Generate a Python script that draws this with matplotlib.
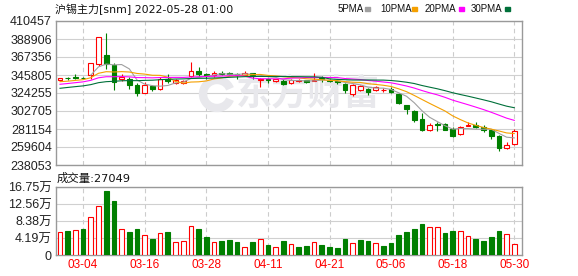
import matplotlib.pyplot as plt
import matplotlib.patches as mpatches
import numpy as np
import pandas as pd

# dados (60 pregoes, 03-01 a 05-30)
opens = [339400, 342600, 343300, 342200, 346100, 359100, 370200, 357600, 340600, 340600,
         333500, 324800, 332700, 329500, 340600, 336600, 336600, 344500, 350900, 346500,
         345300, 347700, 347700, 346500, 346100, 348500, 339800, 341400, 338600, 339000,
         336300, 338200, 339400, 339000, 342600, 339800, 338600, 335100, 323600, 328400,
         329100, 328000, 327600, 328800, 322800, 310200, 302300, 293200, 280200, 287700,
         286900, 281400, 275500, 285000, 286100, 284100, 279400, 272300, 258500, 263200]
highs = [342400, 343400, 346500, 343800, 360300, 391500, 396200, 360300, 346500, 343400,
         335900, 337400, 333500, 343400, 346500, 340600, 340200, 361900, 354800, 348500,
         350100, 350100, 349700, 348500, 350100, 348500, 341800, 342600, 341400, 340600,
         340600, 340600, 340200, 348100, 344500, 341000, 339800, 336300, 335500, 334300,
         330700, 332700, 330300, 331100, 324800, 310200, 304300, 299900, 288500, 290100,
         288100, 283400, 285300, 290100, 289300, 286100, 279400, 273500, 266000, 280600]
lows = [338600, 339800, 340600, 340600, 341400, 356400, 352400, 328400, 338600, 329500,
        320900, 324400, 326800, 328000, 336600, 335500, 335500, 343800, 343800, 340600,
        343800, 345300, 345300, 340600, 344500, 340600, 331900, 336600, 337400, 333500,
        335100, 337400, 335900, 338200, 337800, 337800, 335500, 324400, 320900, 326800,
        322400, 327200, 325600, 324800, 311000, 299200, 289300, 278200, 278200, 278200,
        279400, 271900, 273500, 284500, 282200, 277400, 269600, 254600, 257700, 262400]
closes = [341800, 342200, 342600, 341800, 359900, 391100, 359100, 337800, 343800, 333900,
          324400, 334300, 328800, 340600, 338200, 339800, 339000, 350900, 346500, 344500,
          348100, 347300, 347300, 345300, 348100, 345300, 341400, 339400, 340600, 335100,
          340200, 340200, 337800, 340200, 340600, 338600, 337400, 328000, 333500, 332300,
          325600, 331100, 327800, 325600, 312200, 305100, 292400, 280200, 286100, 286500,
          280200, 272300, 283400, 285400, 283400, 279800, 272700, 258500, 262400, 279000]
volumes = [55600, 58800, 60500, 63700, 94800, 121700, 156900, 132400, 62900, 56400,
           63700, 48200, 39200, 53100, 56400, 31000, 33500, 70300, 63700, 44100,
           31000, 34300, 36800, 31900, 19600, 31900, 38400, 24500, 19600, 34300,
           26100, 19600, 22100, 31000, 24500, 19600, 17200, 39200, 28600, 36800,
           34300, 28600, 22100, 29400, 49000, 56400, 63700, 76000, 67800, 67800,
           53900, 58800, 58000, 45800, 39200, 34300, 44100, 58800, 50700, 27049]
# cor de cada barra de volume (r = alta, g = baixa)
vol_dir = "rgrgrrggrggrgrgrrrggrgggrgrgrg" + "rggrggggrggrggggggrrggrrggggrr"

# fechamentos anteriores estimados, so para as medias de 10/20/30
prev_closes = [312000, 313500, 314500, 315000, 321000, 323000, 324500, 325500, 326500, 327500,
               324000, 322500, 322000, 323700, 330000, 334000, 338000, 340000, 341000, 340800,
               336000, 333500, 333000, 336500, 338000, 340000, 341500, 339500, 338200]

date_pos = [3, 11, 19, 27, 35, 43, 51, 59]
date_labels = ["03-04", "03-16", "03-28", "04-11", "04-21", "05-06", "05-18", "05-30"]
price_ticks = [410457, 388906, 367356, 345805, 324255, 302705, 281154, 259604, 238053]
vol_ticks = [0, 41875, 83750, 125625, 167500]
vol_tick_labels = ["0", "4.19万", "8.38万", "12.56万", "16.75万"]

RED = "#ff0000"
GREEN = "#007f00"
W, H = 578, 276
lab_font = ["Liberation Sans", "Noto Sans CJK SC"]
title_font = ["DejaVu Sans", "Noto Sans CJK SC"]

fig = plt.figure(figsize=(W / 100, H / 100), dpi=100)
ax = fig.add_axes([56 / W, 1 - 165 / H, 466 / W, 144 / H])
axv = fig.add_axes([56 / W, 1 - 255 / H, 466 / W, 68 / H])

x = np.arange(len(closes))
o = np.array(opens)
c = np.array(closes)
up = c >= o
ccol = np.where(up, RED, GREEN)

# velas
ax.vlines(x, lows, highs, colors=ccol, lw=0.8, zorder=3)
body = np.maximum(np.abs(c - o), 400)
ax.bar(x, body, bottom=np.minimum(o, c), width=0.62,
       color=np.where(up, "white", GREEN), edgecolor=ccol, lw=0.8, zorder=4)

# medias moveis
full = pd.Series(prev_closes + closes, dtype=float)
n = len(prev_closes)
ma5 = pd.Series(closes, dtype=float).rolling(5).mean()
ma10 = full.rolling(10).mean().iloc[n:].values
ma20 = full.rolling(20).mean().iloc[n:].values
ma30 = full.rolling(30).mean().iloc[n:].values
ax.plot(x, ma5, color="#a0a0a0", lw=0.8, zorder=5)
ax.plot(x, ma10, color="#f5a000", lw=0.8, zorder=5)
ax.plot(x, ma20, color="#ff00ff", lw=0.8, zorder=5)
ax.plot(x, ma30, color="#00703a", lw=0.8, zorder=5)

# volume
vcol = [RED if d == "r" else GREEN for d in vol_dir]
axv.bar(x, volumes, width=0.62, color=["white" if d == "r" else GREEN for d in vol_dir],
        edgecolor=vcol, lw=0.8, zorder=3)

# marca d'agua
ax.text(308 / W, 1 - 94 / H, "东方财富", transform=fig.transFigure, ha="center", va="center",
        fontsize=26, fontweight="bold", color="#e8e8ec", family=["Noto Sans CJK SC"], zorder=1)
ax.add_patch(mpatches.Arc((217 / W, 1 - 94 / H), 28 / W, 28 / H, theta1=40, theta2=320,
                          lw=6, color="#e8e8ec", transform=fig.transFigure, zorder=1))

for a in (ax, axv):
    a.set_xlim(-0.52, 60)
    a.set_xticks(date_pos)
    a.grid(axis="x", color="#cccccc", ls=(0, (4, 3)), lw=0.8)
    a.grid(axis="y", color="#d0d0d0", ls="-", lw=0.8)
    a.set_axisbelow(True)
    a.tick_params(length=0, pad=3, labelsize=9, labelcolor="#222222")
    for s in a.spines.values():
        s.set_color("#999999")
        s.set_linewidth(1.0)

ax.set_ylim(price_ticks[-1], price_ticks[0])
ax.set_yticks(price_ticks)
ax.set_yticklabels([str(t) for t in price_ticks], family=lab_font)
ax.set_xticklabels([])

axv.set_ylim(0, vol_ticks[-1])
axv.set_yticks(vol_ticks)
axv.set_yticklabels(vol_tick_labels, family=lab_font)
axv.set_xticklabels(date_labels, color=RED, fontsize=8.5, family=lab_font)

# titulos
fig.text(55 / W, 1 - 9 / H, "沪锡主力[snm] 2022-05-28 01:00", va="center", fontsize=7.9,
         family=title_font, color="#111111")
fig.text(57 / W, 1 - 178 / H, "成交量:" + str(volumes[-1]), va="center", fontsize=8.2,
         family=title_font, color="#111111")

# legenda das medias
leg = [("5PMA", 338, 365, "#a0a0a0"), ("10PMA", 380, 412, "#f5a000"),
       ("20PMA", 425, 459, "#ff00ff"), ("30PMA", 471, 505, "#00703a")]
for name, tx, mx, col in leg:
    fig.text(tx / W, 1 - 9 / H, name, va="center", fontsize=7, family=lab_font, color="#111111")
    fig.add_artist(mpatches.Rectangle((mx / W, 1 - 10.5 / H), 5 / W, 3 / H, color=col,
                                      transform=fig.transFigure))

fig.savefig("out.png", dpi=100)
